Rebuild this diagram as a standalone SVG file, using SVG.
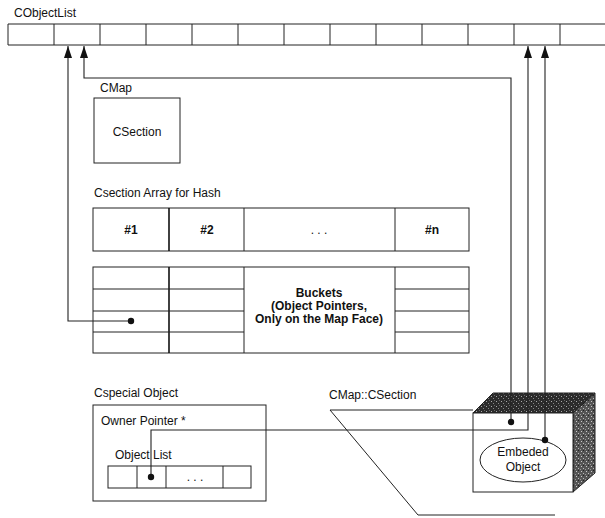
<svg xmlns="http://www.w3.org/2000/svg" width="605" height="518" viewBox="0 0 605 518">
<defs>
<style>
.t{font-family:"Liberation Sans",Arial,sans-serif;font-size:12px;fill:#111}
.b{font-family:"Liberation Sans",Arial,sans-serif;font-size:12px;font-weight:bold;fill:#111}
.box{fill:#fff;stroke:#222;stroke-width:1}
.ln{fill:none;stroke:#222;stroke-width:1}
.thk{fill:none;stroke:#111;stroke-width:1.6}
.con{fill:none;stroke:#222;stroke-width:1.1}
.dot{fill:#111}
</style>
<marker id="ah" markerUnits="userSpaceOnUse" markerWidth="12" markerHeight="8" refX="12" refY="4" orient="auto">
<path d="M0,0 L12,4 L0,8 z" fill="#111"/>
</marker>
<pattern id="stip" width="5" height="5" patternUnits="userSpaceOnUse">
<rect width="5" height="5" fill="#2b2b2b"/>
<rect x="1" y="1" width="1" height="1" fill="#aaa"/>
<rect x="3" y="3" width="1" height="1" fill="#888"/>
<rect x="4" y="0" width="1" height="1" fill="#666"/>
</pattern>
<pattern id="stip2" width="5" height="5" patternUnits="userSpaceOnUse">
<rect width="5" height="5" fill="#555"/>
<rect x="1" y="1" width="1" height="1" fill="#ccc"/>
<rect x="3" y="3" width="1" height="1" fill="#bbb"/>
<rect x="0" y="4" width="1" height="1" fill="#999"/>
<rect x="3" y="0" width="1" height="1" fill="#222"/>
</pattern>
</defs>
<rect width="605" height="518" fill="#fff"/>

<g id="cobjectlist">
<text class="t" x="14" y="17">CObjectList</text>
<path class="ln" d="M8,24 H605 M8,45 H605 M8,24 V45 M54,24 V45 M100,24 V45 M146,24 V45 M192,24 V45 M238,24 V45 M284,24 V45 M330,24 V45 M376,24 V45 M422,24 V45 M468,24 V45 M514,24 V45 M560,24 V45"/>
</g>

<g id="cmap">
<text class="t" x="100" y="92">CMap</text>
<rect class="box" x="94" y="98" width="86" height="65"/>
<text class="t" x="137" y="136" text-anchor="middle">CSection</text>
</g>

<g id="hash-array">
<text class="t" x="94" y="197">Csection Array for Hash</text>
<rect class="box" x="93" y="208" width="376" height="43"/>
<path class="thk" d="M169,208 V251"/>
<path class="ln" d="M244,208 V251 M395,208 V251"/>
<text class="b" x="131" y="234" text-anchor="middle">#1</text>
<text class="b" x="207" y="234" text-anchor="middle">#2</text>
<text class="t" x="319" y="234" text-anchor="middle">. . .</text>
<text class="b" x="432" y="234" text-anchor="middle">#n</text>
</g>

<g id="buckets">
<rect class="box" x="93" y="267" width="376" height="86"/>
<path class="thk" d="M169,267 V353"/>
<path class="ln" d="M244,267 V353 M395,267 V353 M93,289 H244 M93,311 H244 M93,332 H244 M395,289 H469 M395,311 H469 M395,332 H469"/>
<text class="b" x="319" y="297" text-anchor="middle">Buckets</text>
<text class="b" x="319" y="310" text-anchor="middle">(Object Pointers,</text>
<text class="b" x="319" y="323" text-anchor="middle">Only on the Map Face)</text>
</g>

<g id="cspecial-object">
<text class="t" x="94" y="397">Cspecial Object</text>
<rect class="box" x="93" y="405" width="173" height="96"/>
<text class="t" x="101" y="425">Owner Pointer *</text>
<text class="t" x="115" y="459">Object List</text>
<rect class="box" x="108" y="466" width="143" height="22"/>
<path class="ln" d="M137,466 V488 M166,466 V488 M223,466 V488"/>
<text class="t" x="195" y="481" text-anchor="middle">. . .</text>
</g>

<g id="cmap-csection">
<text class="t" x="329" y="399">CMap::CSection</text>
<path class="ln" d="M473,410 H330 L418,515 H555"/>
</g>

<g id="embedded-cube">
<polygon points="473,413 493,393 595,393 573,413" fill="url(#stip)" stroke="#222" stroke-width="1"/>
<polygon points="573,413 595,393 595,473 573,492" fill="url(#stip2)" stroke="#222" stroke-width="1"/>
<rect class="box" x="473" y="413" width="100" height="79"/>
<ellipse class="ln" cx="523" cy="460" rx="43" ry="22"/>
<text class="t" x="523" y="456" text-anchor="middle">Embeded</text>
<text class="t" x="523" y="471" text-anchor="middle">Object</text>
</g>

<g id="connectors">
<path class="con" d="M131,321 H68 V46" marker-end="url(#ah)"/>
<path class="con" d="M511,422 V78 H84 V46" marker-end="url(#ah)"/>
<path class="con" d="M151,477 V430 H528 V46" marker-end="url(#ah)"/>
<path class="con" d="M545,440 V46" marker-end="url(#ah)"/>
<circle class="dot" cx="131" cy="321" r="3.2"/>
<circle class="dot" cx="511" cy="422" r="3.2"/>
<circle class="dot" cx="151" cy="477" r="3.2"/>
<circle class="dot" cx="545" cy="440" r="3.2"/>
</g>
</svg>
